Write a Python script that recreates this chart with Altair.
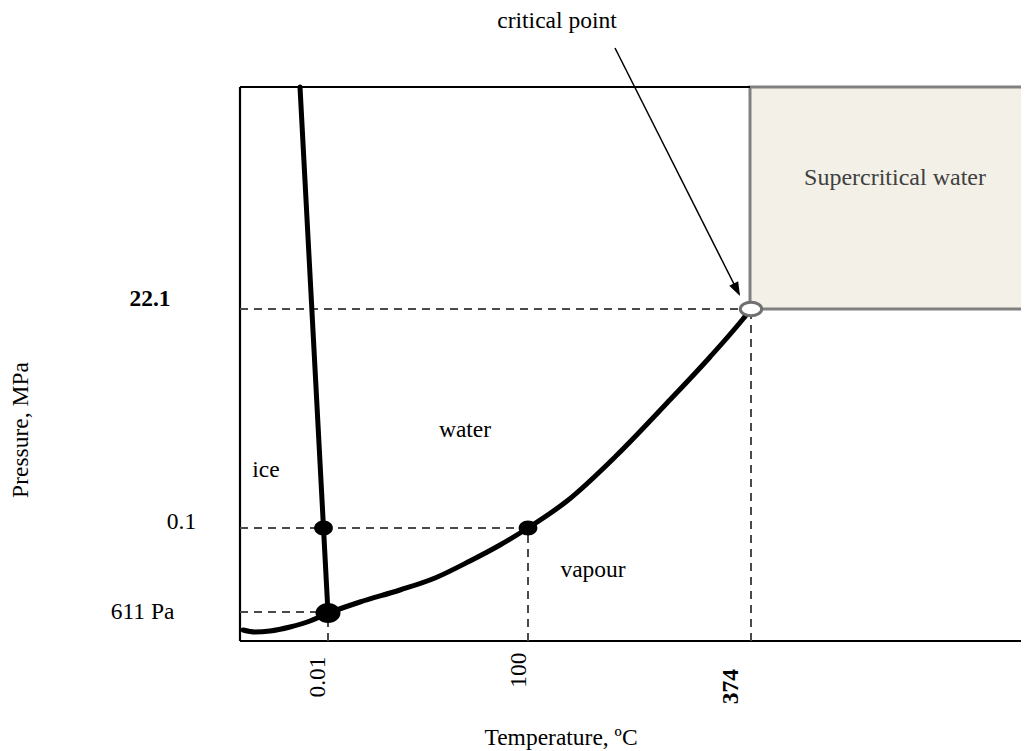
import altair as alt
import pandas as pd

# Diagram coordinates: u = horizontal position (0 = left frame), v = vertical position (0 = bottom frame)
FONT = "Liberation Serif"
W, H = 781, 554
FS = 23.5

# Phase boundary curves (schematic)
melt_u = [60, 83.5, 88]
melt_v = [554, 113, 28]
subl_u = [3, 15, 30, 50, 70, 88]
subl_v = [11, 9, 10, 14, 20, 28]
boil_u = [88, 120, 160, 195, 230, 260, 288, 327, 377, 427, 470, 503, 511]
boil_v = [28, 39, 51, 63, 80, 96, 113, 140, 186, 238, 284, 322, 332]

# Marked points
dot_u = [83.5, 288]
dot_v = [113, 113]
triple_u, triple_v = [88], [28]
crit_u, crit_v = [511], [332]

# Reference dashed lines (u1, v1, u2, v2)
dash_u1 = [0, 0, 0, 88, 288, 511]
dash_v1 = [332, 113, 29, 0, 0, 0]
dash_u2 = [511, 288, 88, 88, 288, 511]
dash_v2 = [332, 113, 29, 28, 113, 332]

# Frame lines
frame_u1 = [0, 0, 0]
frame_v1 = [0, 554, 0]
frame_u2 = [0, 510, 800]
frame_v2 = [554, 554, 0]

# Supercritical region
box_u1, box_u2, box_v1, box_v2 = [510], [800], [332], [554]

# Arrow to the critical point
arrow_u1, arrow_v1, arrow_u2, arrow_v2 = [375], [593], [499], [347]
head_u, head_v = [500], [345]

# Labels (anchor on the text baseline)
plain_text = ["critical point", "water", "ice", "vapour", "0.1", "611 Pa", "Temperature, ºC"]
plain_u = [317, 225, 26, 353, -58.5, -97.5, 321]
plain_v = [613, 204, 164, 64, 112, 22, -104]
bold_text = ["22.1"]
bold_u, bold_v = [-90], [335]
rot_text = ["0.01", "100", "Pressure, MPa"]
rot_u, rot_v = [85, 286, -212.5], [-36, -29, 211]
rotb_text = ["374"]
rotb_u, rotb_v = [498], [-45.5]
sc_text, sc_u, sc_v = ["Supercritical water"], [655], [456]

xs = alt.Scale(domain=[0, W], nice=False, zero=False)
ys = alt.Scale(domain=[0, H], nice=False, zero=False)


def XY():
    return dict(x=alt.X("u:Q", scale=xs, axis=None), y=alt.Y("v:Q", scale=ys, axis=None))


def seg_enc():
    return dict(
        x=alt.X("u1:Q", scale=xs, axis=None),
        y=alt.Y("v1:Q", scale=ys, axis=None),
        x2="u2:Q",
        y2="v2:Q",
    )


layers = []

box = pd.DataFrame({"u1": box_u1, "u2": box_u2, "v1": box_v1, "v2": box_v2})
layers.append(
    alt.Chart(box).mark_rect(fill="#f2f0e7", stroke="#808080", strokeWidth=3).encode(**seg_enc())
)

frame = pd.DataFrame({"u1": frame_u1, "v1": frame_v1, "u2": frame_u2, "v2": frame_v2})
layers.append(alt.Chart(frame).mark_rule(color="black", strokeWidth=2.2).encode(**seg_enc()))

dash = pd.DataFrame({"u1": dash_u1, "v1": dash_v1, "u2": dash_u2, "v2": dash_v2})
layers.append(
    alt.Chart(dash).mark_rule(color="#4a4a4a", strokeWidth=2, strokeDash=[8, 6]).encode(**seg_enc())
)

for cu, cv in [(melt_u, melt_v), (subl_u, subl_v), (boil_u, boil_v)]:
    df = pd.DataFrame({"u": cu, "v": cv, "i": list(range(len(cu)))})
    layers.append(
        alt.Chart(df)
        .mark_line(color="black", strokeWidth=5, interpolate="monotone", strokeCap="round")
        .encode(**XY(), order="i:Q")
    )

ELL = "M -1.25 0 A 1.25 1 0 1 0 1.25 0 A 1.25 1 0 1 0 -1.25 0 Z"
ELL2 = "M -1.6 0 A 1.6 1 0 1 0 1.6 0 A 1.6 1 0 1 0 -1.6 0 Z"
layers.append(
    alt.Chart(pd.DataFrame({"u": dot_u, "v": dot_v}))
    .mark_point(shape=ELL, size=225, filled=True, color="black", opacity=1)
    .encode(**XY())
)
layers.append(
    alt.Chart(pd.DataFrame({"u": triple_u, "v": triple_v}))
    .mark_point(shape=ELL, size=400, filled=True, color="black", opacity=1)
    .encode(**XY())
)
layers.append(
    alt.Chart(pd.DataFrame({"u": crit_u, "v": crit_v}))
    .mark_point(shape=ELL2, size=180, fill="white", stroke="#707070", strokeWidth=3, opacity=1, filled=False)
    .encode(**XY())
)

arrow = pd.DataFrame({"u1": arrow_u1, "v1": arrow_v1, "u2": arrow_u2, "v2": arrow_v2})
layers.append(alt.Chart(arrow).mark_rule(color="black", strokeWidth=1.5).encode(**seg_enc()))
HEAD = "M 0 0 L -0.5 -1.4 L 0.5 -1.4 Z"
layers.append(
    alt.Chart(pd.DataFrame({"u": head_u, "v": head_v}))
    .mark_point(shape=HEAD, size=400, filled=True, color="black", opacity=1, angle=333.3)
    .encode(**XY())
)


def text_layer(texts, us, vs, **kw):
    df = pd.DataFrame({"u": us, "v": vs, "t": texts})
    params = dict(font=FONT, fontSize=FS, color="black", align="center", baseline="alphabetic")
    params.update(kw)
    return alt.Chart(df).mark_text(**params).encode(**XY(), text="t:N")


layers.append(text_layer(plain_text, plain_u, plain_v))
layers.append(text_layer(bold_text, bold_u, bold_v, fontWeight="bold"))
layers.append(text_layer(rot_text, rot_u, rot_v, angle=270))
layers.append(text_layer(rotb_text, rotb_u, rotb_v, angle=270, fontWeight="bold"))
layers.append(text_layer(sc_text, sc_u, sc_v, color="#404040", fontSize=24))

chart = (
    alt.layer(*layers)
    .properties(
        width=W,
        height=H,
        padding={"left": 232, "top": 79, "right": 0, "bottom": 109},
        autosize=alt.AutoSizeParams(type="none"),
        background="white",
    )
    .configure_view(stroke=None)
)

chart.save("out.html", embed_options={"renderer": "svg", "actions": False})
